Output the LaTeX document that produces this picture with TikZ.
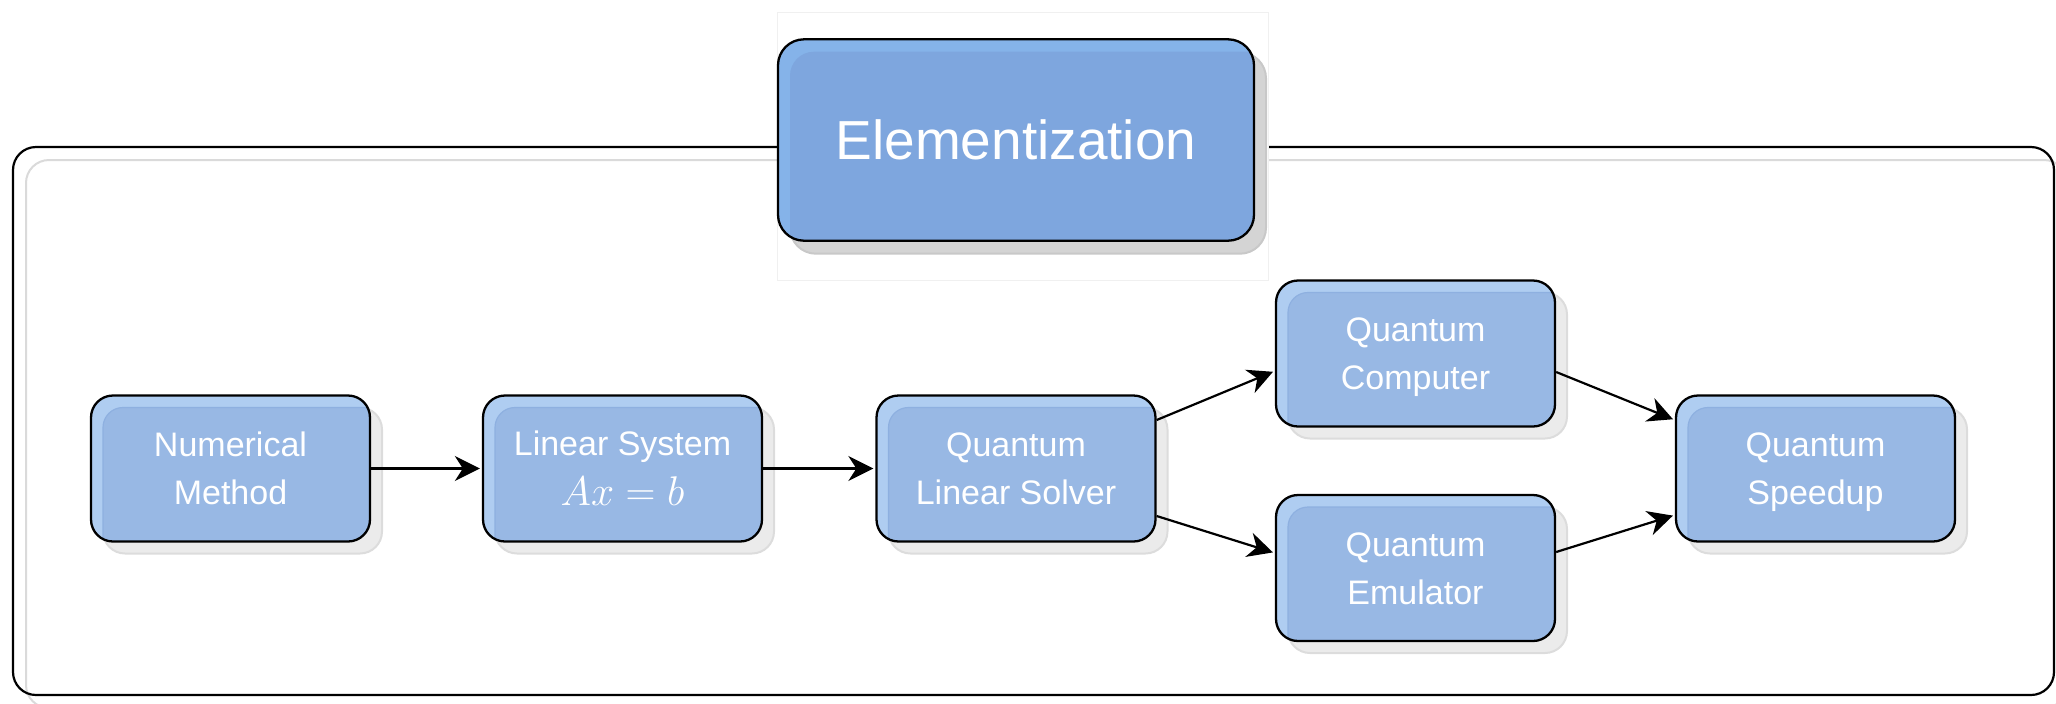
\documentclass[tikz,border=0pt]{standalone}
\usepackage{fontspec}
\setmainfont{Liberation Sans}
\usetikzlibrary{arrows.meta,shadows}

\definecolor{boxlight}{HTML}{AFCDF1}
\definecolor{boxinner}{HTML}{98B8E4}
\definecolor{boxinneredge}{HTML}{8EB0E0}
\definecolor{elemlight}{HTML}{85B3E9}
\definecolor{eleminner}{HTML}{7EA6DE}
\definecolor{shadowfill}{HTML}{EBEBEB}
\definecolor{shadowedge}{HTML}{DCDCDC}
\definecolor{elemshadow}{HTML}{D4D4D4}
\definecolor{elemshadowedge}{HTML}{C8C8C8}
\definecolor{frameshadow}{HTML}{DADADA}
\definecolor{coveredge}{HTML}{F0F0F0}

\tikzset{
  x=0.5pt, y=-0.5pt,
  stagebox/.style={
    draw=black, line width=1.15pt, rounded corners=11pt,
    fill=boxlight, text=white,
    minimum width=139.5pt, minimum height=73pt, inner sep=0pt,
    align=center, font=\fontsize{17}{24}\selectfont,
    text height=36.2pt, text depth=0pt,
    drop shadow={shadow xshift=6pt, shadow yshift=-6pt, opacity=1,
      fill=shadowfill, draw=shadowedge, line width=1pt},
    path picture={\fill[boxinner, draw=boxinneredge, line width=0.6pt, rounded corners=10pt]
      ([shift={(6pt,-6pt)}]path picture bounding box.north west) rectangle
      ([shift={(20pt,-20pt)}]path picture bounding box.south east);}
  },
  titlebox/.style={
    draw=black, line width=1.15pt, rounded corners=13pt,
    fill=elemlight, text=white,
    minimum width=238pt, minimum height=100.7pt, inner sep=0pt,
    font=\fontsize{27.5}{32}\selectfont,
    text height=19.7pt, text depth=0pt,
    drop shadow={shadow xshift=6pt, shadow yshift=-6.5pt, opacity=1,
      fill=elemshadow, draw=elemshadowedge, line width=1pt},
    path picture={\fill[eleminner, rounded corners=12pt]
      ([shift={(6pt,-6.2pt)}]path picture bounding box.north west) rectangle
      ([shift={(20pt,-20pt)}]path picture bounding box.south east);}
  },
  flow/.style={draw=black, line width=1.1pt,
    -{Stealth[length=12.5pt, width=12.5pt, inset=4pt]}, shorten >=1pt}
}

\begin{document}
\begin{tikzpicture}
  \useasboundingbox (0,0) rectangle (2056,703);
  \clip (0,0) rectangle (2056,703);

  % enclosing frame with its offset shadow outline
  \draw[frameshadow, line width=1pt, rounded corners=11.5pt] (26,160) rectangle (2067,708);
  \draw[black, line width=1.1pt, rounded corners=11.5pt] (13,147) rectangle (2054,695);

  % white backdrop behind the title
  \fill[white, draw=coveredge, line width=0.5pt] (777,12) rectangle (1268,280);
  \node[titlebox] (elem) at (1016,140) {Elementization};

  % processing stages
  \node[stagebox] (nm)  at (230.5,468.5) {Numerical\\Method};
  \node[stagebox, text height=37.2pt] (ls) at (622.5,468.5)
    {Linear System\\[1pt]{\fontsize{21.5}{24}\selectfont$Ax=b$}};
  \node[stagebox] (qls) at (1016,468.5) {Quantum\\Linear Solver};
  \node[stagebox] (qc)  at (1415.5,353.5) {Quantum\\Computer};
  \node[stagebox] (qe)  at (1415.5,568) {Quantum\\Emulator};
  \node[stagebox] (qs)  at (1815.5,468.5) {Quantum\\Speedup};

  % connectors
  \draw[flow] (nm.east) -- (ls.west);
  \draw[flow] (ls.east) -- (qls.west);
  \draw[flow] ([yshift=24.25pt]qls.east) -- ([yshift=-8.75pt]qc.west);
  \draw[flow] ([yshift=-23.75pt]qls.east) -- ([yshift=7.5pt]qe.west);
  \draw[flow] ([yshift=-9.25pt]qc.east) -- ([yshift=24.25pt]qs.west);
  \draw[flow] ([yshift=8pt]qe.east) -- ([yshift=-23.25pt]qs.west);
\end{tikzpicture}
\end{document}
